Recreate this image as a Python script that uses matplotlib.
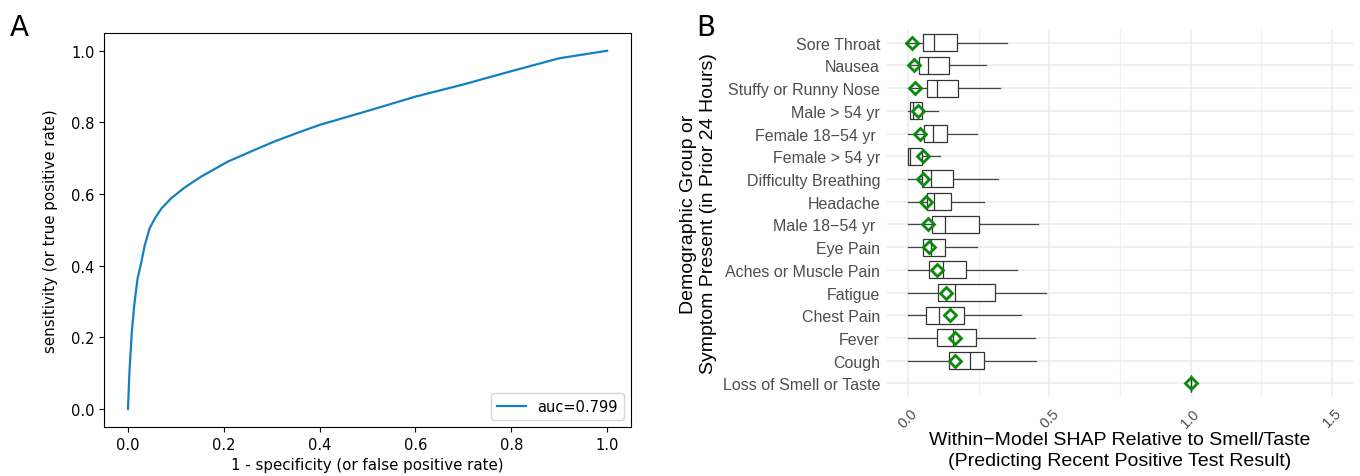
import numpy as np
import matplotlib.pyplot as plt
from matplotlib.ticker import MultipleLocator

# --- panel A: ROC curve
fpr = [0.0, 0.003, 0.008, 0.013, 0.020, 0.028, 0.035, 0.045, 0.056, 0.070,
       0.090, 0.118, 0.153, 0.209, 0.257, 0.306, 0.362, 0.40, 0.50, 0.60,
       0.70, 0.80, 0.90, 1.0]
tpr = [0.0, 0.103, 0.215, 0.289, 0.364, 0.411, 0.457, 0.504, 0.532, 0.560,
       0.588, 0.618, 0.649, 0.691, 0.719, 0.747, 0.775, 0.793, 0.832, 0.872,
       0.906, 0.943, 0.979, 1.0]
auc_label = "auc=0.799"

# --- panel B: SHAP box summaries
features = ["Sore Throat", "Nausea", "Stuffy or Runny Nose", "Male > 54 yr",
            "Female 18\u221254 yr ", "Female > 54 yr", "Difficulty Breathing",
            "Headache", "Male 18\u221254 yr ", "Eye Pain", "Aches or Muscle Pain",
            "Fatigue", "Chest Pain", "Fever", "Cough", "Loss of Smell or Taste"]
whis_lo = [0.0, 0.0, 0.0, 0.0, 0.0, 0.0, 0.0, 0.0, 0.0, 0.0, 0.0, 0.0, 0.0, 0.0, 0.0, 1.0]
q1 = [0.054, 0.038, 0.066, 0.005, 0.055, -0.002, 0.049, 0.067, 0.084, 0.052,
      0.075, 0.107, 0.063, 0.101, 0.144, 1.0]
med = [0.092, 0.071, 0.103, 0.018, 0.089, 0.008, 0.080, 0.092, 0.129, 0.080,
       0.124, 0.164, 0.110, 0.158, 0.218, 1.0]
q3 = [0.173, 0.143, 0.178, 0.048, 0.137, 0.048, 0.158, 0.152, 0.252, 0.130,
      0.204, 0.308, 0.198, 0.241, 0.270, 1.0]
whis_hi = [0.349, 0.275, 0.325, 0.107, 0.244, 0.113, 0.317, 0.268, 0.460, 0.242,
           0.387, 0.488, 0.399, 0.449, 0.451, 1.0]
means = [0.014, 0.020, 0.025, 0.034, 0.043, 0.051, 0.052, 0.064, 0.069, 0.072,
         0.101, 0.133, 0.149, 0.164, 0.164, 1.0]

fig = plt.figure(figsize=(13.6, 4.77), dpi=100)

# ROC plot
ax1 = fig.add_axes([0.0765, 0.103, 0.3875, 0.826])
ax1.plot(fpr, tpr, color='#1380c4', lw=1.6, label=auc_label)
ax1.set_xlim(-0.05, 1.05)
ax1.set_ylim(-0.05, 1.05)
ax1.set_xlabel("1 - specificity (or false positive rate)", fontsize=10.8, labelpad=4)
ax1.set_ylabel("sensitivity (or true positive rate)", fontsize=10.8, labelpad=9)
ax1.tick_params(labelsize=10.5)
ax1.legend(loc='lower right', fontsize=10.5)

# SHAP boxplot
ax2 = fig.add_axes([0.6522, 0.1656, 0.3427, 0.7714])
stats = []
for i, name in enumerate(features):
    stats.append(dict(label=name, whislo=whis_lo[i], q1=q1[i], med=med[i],
                      q3=q3[i], whishi=whis_hi[i], mean=means[i], fliers=[]))
pos = np.arange(len(features))
ax2.bxp(stats, positions=pos, vert=False, widths=0.75, showcaps=False,
        showmeans=True, patch_artist=True,
        boxprops=dict(facecolor='white', edgecolor='#333333', lw=0.9),
        medianprops=dict(color='#333333', lw=0.9),
        whiskerprops=dict(color='#444444', lw=0.9),
        meanprops=dict(marker='D', markerfacecolor='none', markeredgecolor='#0a8a0a',
                       markeredgewidth=2, markersize=6.5),
        zorder=3)
ax2.set_xlim(-0.075, 1.575)
ax2.set_ylim(len(features) - 0.4, -0.6)
ax2.set_yticks(pos)
ax2.set_yticklabels(features, family='Liberation Sans', fontsize=11.5, color='#4d4d4d')
ax2.xaxis.set_minor_locator(MultipleLocator(0.25))
ax2.set_xticks([0.0, 0.5, 1.0, 1.5])
ax2.set_xticklabels(["0.0", "0.5", "1.0", "1.5"], rotation=45, ha='center', va='top',
                    family='Liberation Sans', fontsize=10.5, color='#4d4d4d')
ax2.tick_params(axis='both', which='both', length=0)
ax2.tick_params(axis='x', pad=6)
ax2.tick_params(axis='y', pad=5)
for s in ax2.spines.values():
    s.set_visible(False)
ax2.grid(True, which='major', color='#ebebeb', lw=1.1, zorder=0)
ax2.grid(True, which='minor', axis='x', color='#f1f1f1', lw=0.9, zorder=0)
ax2.set_axisbelow(True)
ax2.set_xlabel("Within\u2212Model SHAP Relative to Smell/Taste\n(Predicting Recent Positive Test Result)",
               family='Liberation Sans', fontsize=14, labelpad=1, linespacing=1.3)
ax2.set_ylabel("Demographic Group or\nSymptom Present (in Prior 24 Hours)",
               family='Liberation Sans', fontsize=14, labelpad=4, linespacing=1.2)

fig.text(0.007, 0.925, "A", fontsize=20)
fig.text(0.512, 0.925, "B", fontsize=20)

fig.savefig("out.png", dpi=100)
